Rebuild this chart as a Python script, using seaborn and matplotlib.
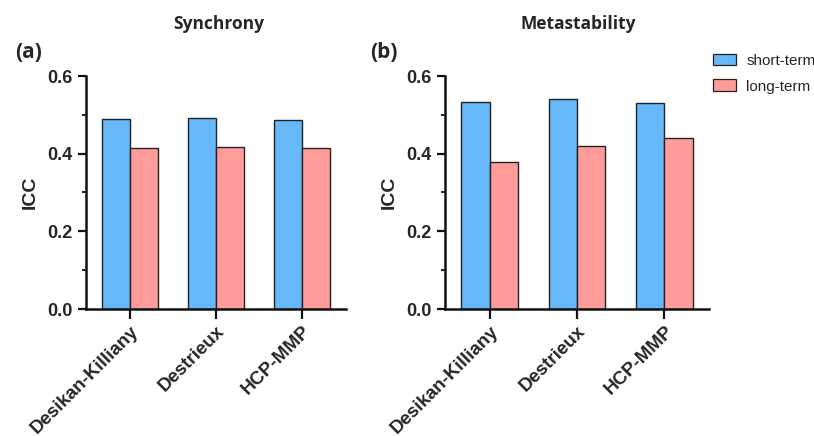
import numpy as np
import pandas as pd
import matplotlib
matplotlib.use('Agg')
import matplotlib.pyplot as plt
import seaborn as sns
from matplotlib.ticker import MultipleLocator
from matplotlib.patches import Patch

# values
atlases = ['Desikan-Killiany', 'Destrieux', 'HCP-MMP']
terms = ['short-term', 'long-term']
sync_short = [0.490, 0.493, 0.486]
sync_long = [0.415, 0.418, 0.414]
meta_short = [0.532, 0.541, 0.531]
meta_long = [0.379, 0.419, 0.440]
colors = ['#66B8F8', '#FF9B98']

sns.set_style('ticks')
plt.rcParams['font.family'] = ['Liberation Sans', 'DejaVu Sans']


def make_df(short, long):
    rows = []
    for a, s, l in zip(atlases, short, long):
        rows.append({'atlas': a, 'term': 'short-term', 'ICC': s})
        rows.append({'atlas': a, 'term': 'long-term', 'ICC': l})
    return pd.DataFrame(rows)


fig = plt.figure(figsize=(8.14, 4.36), dpi=100)
ax1 = fig.add_axes([86 / 814, 1 - 309 / 436, 260 / 814, 233 / 436])
ax2 = fig.add_axes([445 / 814, 1 - 309 / 436, 264 / 814, 233 / 436])

panels = [(ax1, make_df(sync_short, sync_long), 'Synchrony', '(a)', 219, 29),
          (ax2, make_df(meta_short, meta_long), 'Metastability', '(b)', 578, 384)]

for ax, df, title, tag, tx, lx in panels:
    sns.barplot(data=df, x='atlas', y='ICC', hue='term', hue_order=terms,
                palette=colors, width=0.65, edgecolor='#222222', linewidth=1.0,
                saturation=1, ax=ax, legend=False)
    ax.set_ylim(0, 0.6)
    ax.set_xlim(-0.51, 2.51)
    ax.yaxis.set_minor_locator(MultipleLocator(0.1))
    ax.set_yticks([0.0, 0.2, 0.4, 0.6])
    ax.set_yticklabels(['0.0', '0.2', '0.4', '0.6'], fontweight='bold', fontsize=13)
    ax.set_xticks(range(len(atlases)))
    ax.set_xticklabels(atlases, rotation=45, ha='right', rotation_mode='anchor',
                       fontweight='bold', fontsize=13.5)
    ax.set_xlabel('')
    ax.set_ylabel('ICC', fontweight='bold', fontsize=14, labelpad=6)
    ax.tick_params(axis='both', which='major', width=1.6, length=6, color='#111111')
    ax.tick_params(axis='x', which='major', length=7, pad=3)
    ax.tick_params(axis='y', which='minor', width=1.3, length=3, color='#111111')
    for sp in ['left', 'bottom']:
        ax.spines[sp].set_linewidth(1.8)
        ax.spines[sp].set_color('#111111')
    sns.despine(ax=ax)
    fig.text(tx / 814, 1 - 24 / 436, title, ha='center', va='center',
             fontweight='bold', fontsize=12.5, family=['Open Sans', 'DejaVu Sans'])
    fig.text(lx / 814, 1 - 52 / 436, tag, ha='center', va='center',
             fontweight='bold', fontsize=15, family=['Open Sans', 'DejaVu Sans'])

handles = [Patch(facecolor=c, edgecolor='#222222', linewidth=0.9, label=t)
           for c, t in zip(colors, terms)]
fig.legend(handles=handles, loc='upper left', bbox_to_anchor=(699 / 814, 1 - 40 / 436),
           frameon=False, fontsize=11, handlelength=1.5, handleheight=0.8,
           handletextpad=0.7, labelspacing=0.75)

fig.savefig('out.png', dpi=100)
